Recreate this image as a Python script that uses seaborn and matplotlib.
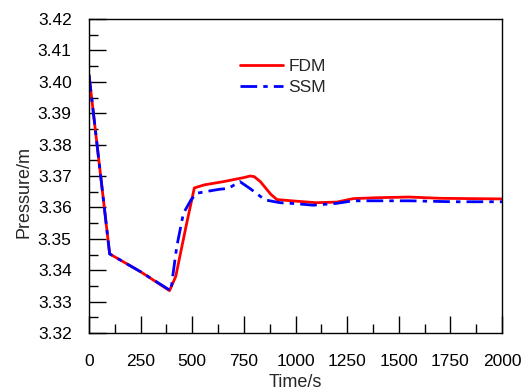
"""Pressure transient: FDM vs SSM."""

import matplotlib.pyplot as plt
import numpy as np
import pandas as pd
import seaborn as sns
from matplotlib.ticker import AutoMinorLocator, MultipleLocator

# readings
fdm_time = [0, 100, 250, 390, 420, 470, 510, 560, 650, 750, 780, 800, 830, 880,
            910, 1000, 1100, 1200, 1280, 1400, 1550, 1700, 1850, 2000]
fdm_pressure = [3.4022, 3.3452, 3.3395, 3.3335, 3.3380, 3.3540, 3.3662, 3.3672,
                3.3682, 3.3695, 3.3700, 3.3698, 3.3682, 3.3642, 3.3625, 3.3620,
                3.3615, 3.3617, 3.3628, 3.3631, 3.3633, 3.3629, 3.3628, 3.3627]

ssm_time = [0, 100, 250, 397, 403, 425, 457, 494, 521, 580, 634, 673, 731, 780,
            852, 925, 1000, 1086, 1200, 1279, 1400, 1555, 1763, 2000]
ssm_pressure = [3.4022, 3.3452, 3.3395, 3.3334, 3.3369, 3.3475, 3.3581, 3.3624,
                3.3645, 3.3652, 3.3658, 3.3660, 3.3682, 3.3660, 3.3624, 3.3615,
                3.3612, 3.3607, 3.3613, 3.3621, 3.3621, 3.3621, 3.3618, 3.3618]

fdm = pd.DataFrame({"time": fdm_time, "pressure": fdm_pressure})
ssm = pd.DataFrame({"time": ssm_time, "pressure": ssm_pressure})

sns.set_style("ticks")
plt.rcParams["font.family"] = ["Liberation Sans", "DejaVu Sans"]

fig = plt.figure(figsize=(5.22, 3.91), dpi=100)
ax = fig.add_axes([0.1705, 0.1483, 0.7912, 0.8031])

sns.lineplot(data=fdm, x="time", y="pressure", ax=ax, color="#ff0000",
             linewidth=2.0, label="FDM")
sns.lineplot(data=ssm, x="time", y="pressure", ax=ax, color="#0000ff",
             linewidth=2.0, linestyle=(0, (6, 2.2, 1.6, 2.2)), label="SSM")

ax.set_xlim(0, 2000)
ax.set_ylim(3.32, 3.42)
ax.xaxis.set_major_locator(MultipleLocator(250))
ax.yaxis.set_major_locator(MultipleLocator(0.01))
ax.xaxis.set_minor_locator(AutoMinorLocator(2))
ax.yaxis.set_minor_locator(AutoMinorLocator(2))
ax.yaxis.set_major_formatter(plt.FormatStrFormatter("%.2f"))

ax.tick_params(which="both", direction="in", top=False, right=False,
               labelsize=12.5, colors="black", width=1.0)
ax.tick_params(axis="x", pad=15)
ax.tick_params(axis="y", pad=12.5)
ax.tick_params(which="major", length=12)
ax.tick_params(which="minor", length=6.5)

for s in ax.spines.values():
    s.set_color("black")
    s.set_linewidth(1.0)

ax.set_xlabel("Time/s", fontsize=13)
ax.set_ylabel("Pressure/m", fontsize=13)
ax.xaxis.set_label_coords(0.5, -0.13)
ax.yaxis.set_label_coords(-0.138, 0.45)

ax.legend(loc="upper left", bbox_to_anchor=(0.348, 0.895), frameon=False,
          fontsize=12.5, handlelength=2.5, handletextpad=0.3, labelspacing=0.35,
          borderaxespad=0)

fig.savefig("out.png", dpi=100)
plt.close(fig)
